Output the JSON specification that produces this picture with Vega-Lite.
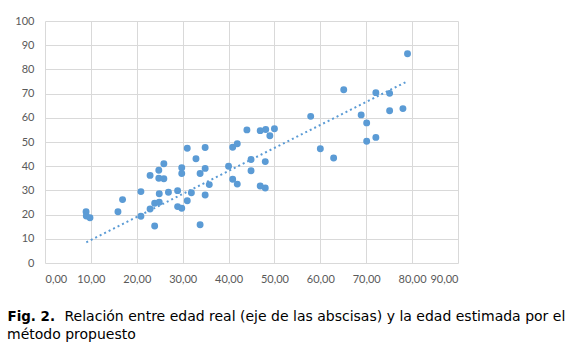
{
  "$schema": "https://vega.github.io/schema/vega-lite/v6.json",
  "autosize": "none",
  "width": 413,
  "height": 242,
  "padding": {"left": 45, "top": 21, "right": 117, "bottom": 88},
  "background": "white",
  "config": {
    "view": {"stroke": null},
    "axis": {
      "domain": false, "ticks": false, "grid": true, "gridColor": "#d9d9d9", "gridWidth": 1,
      "labelFont": "Lato", "labelFontSize": 11, "labelColor": "#595959"
    },
    "axisX": {
      "labelExpr": "replace(format(datum.value, '.2f'), '.', ',')",
      "labelPadding": 10,
      "titleX": 19, "titleY": 57, "titleAlign": "left",
      "titleBaseline": "alphabetic",
      "titleFont": "DejaVu Sans", "titleFontSize": 14, "titleFontWeight": "normal", "titleColor": "#000000"
    },
    "axisY": {
      "labelOverlap": false,
      "labelPadding": 11,
      "titleAngle": 0, "titleX": -38, "titleY": 299, "titleAlign": "left",
      "titleBaseline": "alphabetic",
      "titleFont": "DejaVu Sans", "titleFontSize": 13.4, "titleFontWeight": "bold", "titleColor": "#000000"
    }
  },
  "title": {
    "text": "método propuesto",
    "orient": "bottom", "anchor": "start", "frame": "bounds",
    "font": "DejaVu Sans", "fontSize": 14, "fontWeight": "normal", "color": "#000000",
    "offset": 5
  },
  "datasets": {
    "pts": [
      {"real": 8.95, "est": 21.2}, {"real": 9, "est": 19.4}, {"real": 9.8, "est": 18.7},
      {"real": 15.9, "est": 21.2}, {"real": 16.9, "est": 26.2}, {"real": 20.9, "est": 29.5},
      {"real": 20.9, "est": 19.3}, {"real": 22.9, "est": 36.2}, {"real": 22.9, "est": 22.3},
      {"real": 23.9, "est": 24.7}, {"real": 23.9, "est": 15.3}, {"real": 24.8, "est": 38.3},
      {"real": 24.8, "est": 35}, {"real": 24.9, "est": 28.6}, {"real": 24.9, "est": 25.1},
      {"real": 25.9, "est": 41}, {"real": 25.9, "est": 34.8}, {"real": 26.9, "est": 29.2},
      {"real": 28.9, "est": 29.9}, {"real": 28.9, "est": 23.3}, {"real": 29.8, "est": 39.4},
      {"real": 29.8, "est": 37}, {"real": 29.8, "est": 22.6}, {"real": 31, "est": 47.4},
      {"real": 31, "est": 25.7}, {"real": 31.9, "est": 29}, {"real": 32.9, "est": 43.1},
      {"real": 33.8, "est": 37}, {"real": 33.8, "est": 15.8}, {"real": 34.9, "est": 47.7},
      {"real": 34.9, "est": 39.1}, {"real": 34.9, "est": 28.1}, {"real": 35.8, "est": 32.4},
      {"real": 40, "est": 40}, {"real": 40.9, "est": 47.8}, {"real": 40.9, "est": 34.6},
      {"real": 41.9, "est": 49.3}, {"real": 41.9, "est": 32.6}, {"real": 44, "est": 55},
      {"real": 44.9, "est": 42.8}, {"real": 44.9, "est": 38.1}, {"real": 46.9, "est": 31.8},
      {"real": 48, "est": 31}, {"real": 48, "est": 41.9}, {"real": 49, "est": 52.6},
      {"real": 46.9, "est": 54.7}, {"real": 48.1, "est": 55.2}, {"real": 50, "est": 55.5},
      {"real": 79, "est": 86.5}, {"real": 65.1, "est": 71.6}, {"real": 72.1, "est": 70.4},
      {"real": 75.1, "est": 70.1}, {"real": 57.9, "est": 60.6}, {"real": 68.9, "est": 61.2},
      {"real": 70.1, "est": 57.9}, {"real": 75.1, "est": 62.9}, {"real": 78, "est": 63.8},
      {"real": 70.1, "est": 50.3}, {"real": 72.1, "est": 51.9}, {"real": 60, "est": 47.2},
      {"real": 62.9, "est": 43.4}
    ],
    "trend": [
      {"real": 9, "est": 8.56},
      {"real": 79, "est": 75.11}
    ]
  },
  "encoding": {
    "x": {
      "field": "real", "type": "quantitative",
      "scale": {"domain": [0, 90], "nice": false},
      "axis": {"title": "Relación entre edad real (eje de las abscisas) y la edad estimada por el",
               "values": [0, 10, 20, 30, 40, 50, 60, 70, 80, 90]}
    },
    "y": {
      "field": "est", "type": "quantitative",
      "scale": {"domain": [0, 100], "nice": false},
      "axis": {"title": "Fig. 2.", "values": [0, 10, 20, 30, 40, 50, 60, 70, 80, 90, 100]}
    }
  },
  "layer": [
    {
      "data": {"name": "trend"},
      "mark": {"type": "line", "color": "#5b9bd5", "strokeWidth": 2, "strokeDash": [2, 3]}
    },
    {
      "data": {"name": "pts"},
      "mark": {"type": "circle", "color": "#5b9bd5", "opacity": 1, "size": 48}
    },
    {
      "data": {"values": [{}]},
      "mark": {"type": "text", "font": "Lato", "fontSize": 11, "color": "#595959", "align": "center", "baseline": "middle", "lineHeight": 15},
      "encoding": {
        "x": {"datum": 41, "type": "quantitative", "axis": {"title": "Relación entre edad real (eje de las abscisas) y la edad estimada por el", "values": [0, 10, 20, 30, 40, 50, 60, 70, 80, 90]}},
        "y": {"datum": 92.4, "type": "quantitative", "axis": {"title": "Fig. 2.", "values": [0, 10, 20, 30, 40, 50, 60, 70, 80, 90, 100]}},
        "text": {"value": ["y = 0.9508x", "R = 0.7961"]}
      }
    }
  ]
}
